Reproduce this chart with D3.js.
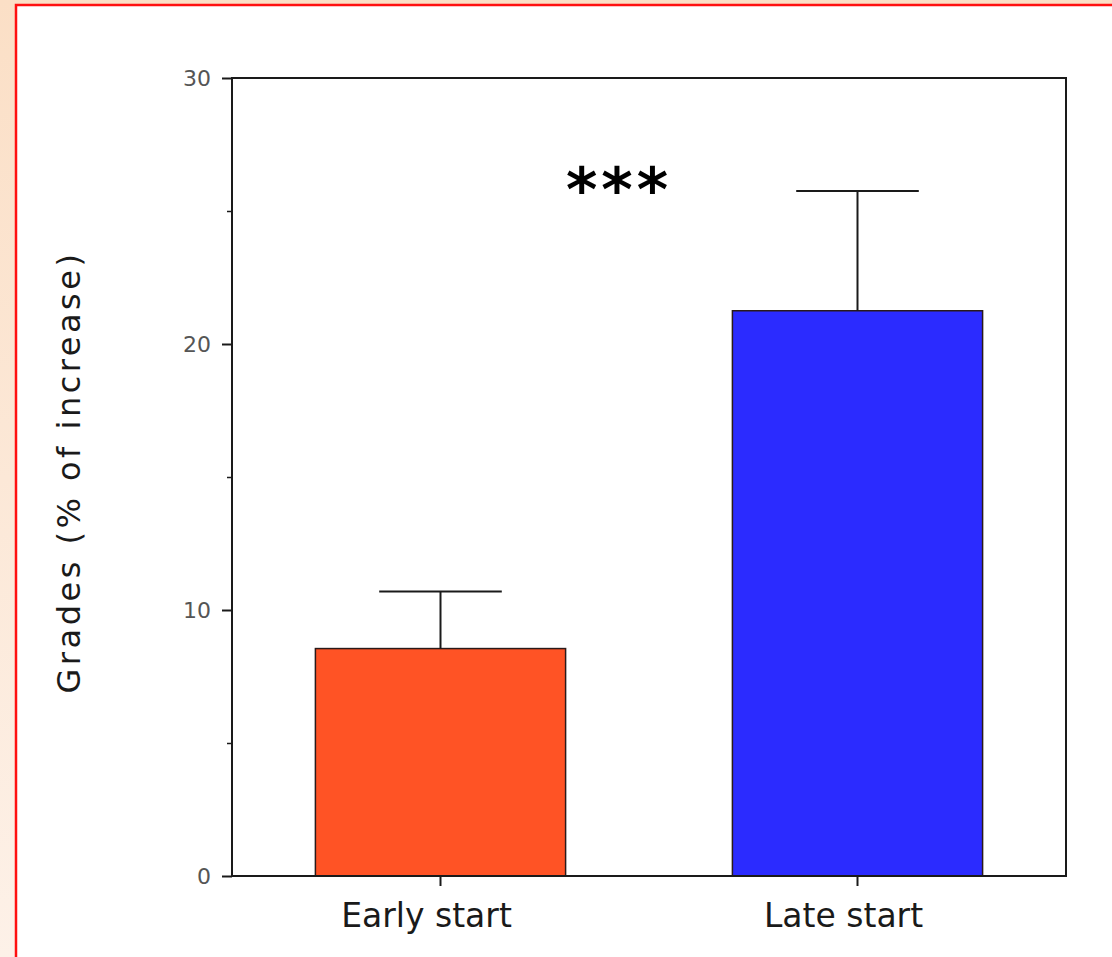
<!DOCTYPE html>
<html>
<head>
<meta charset="utf-8">
<script src="https://cdn.jsdelivr.net/npm/d3@7"></script>
<style>
  html, body { margin: 0; padding: 0; }
  body { width: 1112px; height: 957px; overflow: hidden; }
</style>
</head>
<body>
<div id="chart"></div>
<script>
// data
var groups = ["Early start", "Late start"];
var means = [8.55, 21.25];
var errors = [2.15, 4.5];
var barColors = ["#ff5325", "#2b2bff"];
var yMajorTicks = [0, 10, 20, 30];
var yMinorTicks = [5, 15, 25];
var signifLabel = "***";

var svgWidth = 1112, svgHeight = 957;
var margin = { top: 78, right: 46, bottom: 81, left: 232 };
var width = svgWidth - margin.left - margin.right;
var height = svgHeight - margin.top - margin.bottom;

var svgRoot = d3.select("#chart").append("svg")
    .attr("width", svgWidth)
    .attr("height", svgHeight);

// slide-style background with the red frame
var defs = svgRoot.append("defs");
var grad = defs.append("linearGradient")
    .attr("id", "bg")
    .attr("x1", 0).attr("y1", 0).attr("x2", 0).attr("y2", 1);
grad.append("stop").attr("offset", "0%").attr("stop-color", "#fbdfc6");
grad.append("stop").attr("offset", "100%").attr("stop-color", "#fdf1e8");

svgRoot.append("rect")
    .attr("width", svgWidth).attr("height", svgHeight)
    .attr("fill", "url(#bg)");
svgRoot.append("rect")
    .attr("x", 16).attr("y", 5)
    .attr("width", svgWidth).attr("height", svgHeight)
    .attr("fill", "#fff")
    .attr("stroke", "#ff1010")
    .attr("stroke-width", 2.5);

var svg = svgRoot.append("g")
    .attr("transform", "translate(" + margin.left + "," + margin.top + ")");

var x = d3.scaleBand()
    .domain(groups)
    .range([0, width])
    .paddingInner(0.4)
    .paddingOuter(0.2);

var y = d3.scaleLinear()
    .domain([0, 30])
    .range([height, 0]);

// bars
svg.selectAll(".bar")
    .data(groups)
    .enter().append("rect")
    .attr("class", "bar")
    .attr("x", function(d) { return x(d); })
    .attr("y", function(d, i) { return y(means[i]); })
    .attr("width", x.bandwidth())
    .attr("height", function(d, i) { return height - y(means[i]); })
    .attr("fill", function(d, i) { return barColors[i]; })
    .attr("stroke", "#2a1a1a")
    .attr("stroke-width", 1.5);

// upper error bars
var capHalf = x.bandwidth() * 0.245;
var err = svg.selectAll(".err")
    .data(groups)
    .enter().append("g")
    .attr("class", "err")
    .attr("stroke", "#1a1a1a")
    .attr("stroke-width", 2);
err.append("line")
    .attr("x1", function(d) { return x(d) + x.bandwidth() / 2; })
    .attr("x2", function(d) { return x(d) + x.bandwidth() / 2; })
    .attr("y1", function(d, i) { return y(means[i]); })
    .attr("y2", function(d, i) { return y(means[i] + errors[i]); });
err.append("line")
    .attr("x1", function(d) { return x(d) + x.bandwidth() / 2 - capHalf; })
    .attr("x2", function(d) { return x(d) + x.bandwidth() / 2 + capHalf; })
    .attr("y1", function(d, i) { return y(means[i] + errors[i]); })
    .attr("y2", function(d, i) { return y(means[i] + errors[i]); });

// frame
svg.append("rect")
    .attr("width", width).attr("height", height)
    .attr("fill", "none")
    .attr("stroke", "#1a1a1a")
    .attr("stroke-width", 2);

// y axis
var yAxis = svg.append("g")
    .call(d3.axisLeft(y).tickValues(yMajorTicks).tickSize(10).tickPadding(11));
yAxis.select(".domain").remove();
yAxis.selectAll(".tick line").attr("stroke", "#1a1a1a").attr("stroke-width", 2);
yAxis.selectAll(".tick text")
    .attr("font-family", "DejaVu Sans")
    .attr("font-size", 22)
    .attr("fill", "#555");

var yMinor = svg.append("g")
    .call(d3.axisLeft(y).tickValues(yMinorTicks).tickSize(5).tickFormat(""));
yMinor.select(".domain").remove();
yMinor.selectAll(".tick line").attr("stroke", "#1a1a1a").attr("stroke-width", 1.5);

// x axis
var xAxis = svg.append("g")
    .attr("transform", "translate(0," + height + ")")
    .call(d3.axisBottom(x).tickSize(10).tickPadding(18));
xAxis.select(".domain").remove();
xAxis.selectAll(".tick line").attr("stroke", "#1a1a1a").attr("stroke-width", 2);
xAxis.selectAll(".tick text")
    .attr("font-family", "DejaVu Sans")
    .attr("font-size", 33)
    .attr("fill", "#1a1a1a")
    .attr("dx", -14);

// y label
svg.append("text")
    .attr("transform", "rotate(-90)")
    .attr("x", -(472 - margin.top))
    .attr("y", -152)
    .attr("text-anchor", "middle")
    .attr("font-family", "DejaVu Sans")
    .attr("font-size", 32)
    .attr("letter-spacing", 3.5)
    .attr("fill", "#1a1a1a")
    .text("Grades (% of increase)");

// significance marker
svg.append("text")
    .attr("x", width * 0.464)
    .attr("y", y(25.0))
    .attr("text-anchor", "middle")
    .attr("font-family", "DejaVu Sans")
    .attr("font-weight", "bold")
    .attr("font-size", 60)
    .attr("letter-spacing", 4)
    .attr("fill", "#000")
    .text(signifLabel);
</script>
</body>
</html>
